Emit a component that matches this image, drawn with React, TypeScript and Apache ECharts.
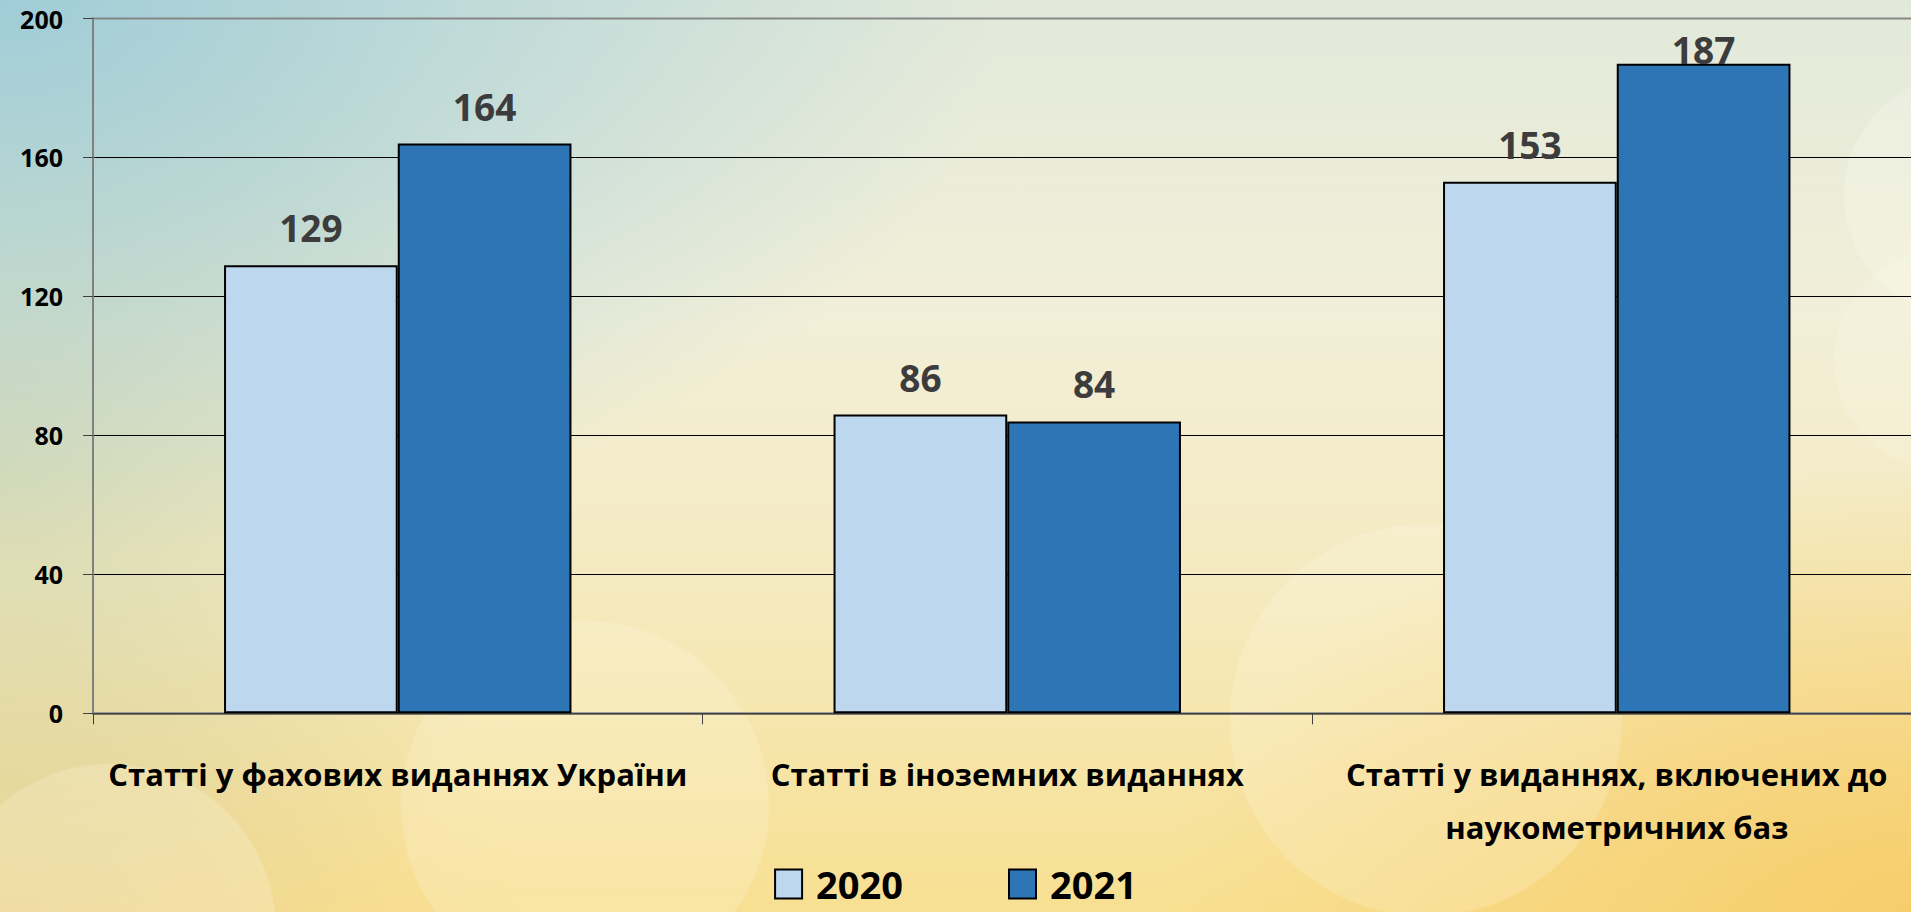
import React, { useEffect, useRef } from "react";
import * as echarts from "echarts";

const categories = [
  "Статті у фахових виданнях України",
  "Статті в іноземних виданнях",
  "Статті у виданнях, включених до\nнаукометричних баз",
];
const seriesNames = ["2020", "2021"];
const values2020 = [129, 86, 153];
const values2021 = [164, 84, 187];
const yTicks = { min: 0, max: 200, interval: 40 };

const FONT = "'Open Sans', 'Noto Sans', sans-serif";

export default function App() {
  const ref = useRef<HTMLDivElement>(null);
  useEffect(() => {
    if (!ref.current) return;
    const chart = echarts.init(ref.current, undefined, { renderer: "svg" });
    const labelCommon = {
      show: true,
      position: "top",
      distance: 19,
      fontFamily: FONT,
      fontSize: 37,
      fontWeight: "bold",
      color: "#3c3c3c",
    };
    chart.setOption({
      animation: false,
      backgroundColor: "transparent",
      textStyle: { fontFamily: FONT },
      grid: {
        left: 93,
        top: 18.5,
        width: 1828.5,
        height: 694.8,
        show: true,
        borderColor: "#868686",
        borderWidth: 2,
        backgroundColor: "transparent",
        outerBoundsMode: "none",
      },
      legend: {
        data: seriesNames,
        left: "center",
        top: 865,
        padding: 0,
        itemWidth: 27,
        itemHeight: 29,
        itemGap: 105,
        icon: "rect",
        itemStyle: { borderColor: "#000", borderWidth: 2 },
        textStyle: {
          fontFamily: FONT,
          fontSize: 38,
          fontWeight: "bold",
          color: "#000",
          padding: [0, 0, 0, 9],
        },
      },
      xAxis: {
        type: "category",
        data: categories,
        axisLine: { lineStyle: { color: "#595959", width: 1.5 } },
        axisTick: { show: true, length: 11, alignWithLabel: false, lineStyle: { color: "#404040" } },
        axisLabel: {
          interval: 0,
          margin: 34,
          fontFamily: FONT,
          fontSize: 31,
          fontWeight: "bold",
          color: "#000",
          lineHeight: 53,
          align: "center",
        },
      },
      yAxis: {
        type: "value",
        min: yTicks.min,
        max: yTicks.max,
        interval: yTicks.interval,
        axisLine: { show: true, lineStyle: { color: "#808080", width: 2 } },
        axisTick: { show: true, length: 10, lineStyle: { color: "#404040" } },
        axisLabel: {
          margin: 30,
          fontFamily: FONT,
          fontSize: 25,
          fontWeight: "bold",
          color: "#000",
        },
        splitLine: {
          show: true,
          lineStyle: {
            color: ["#000", "#000", "#000", "#000", "#000", "#868686"],
            width: 1,
          },
        },
      },
      series: [
        {
          name: seriesNames[0],
          type: "bar",
          data: values2020,
          barGap: "0%",
          barCategoryGap: "43%",
          itemStyle: { color: "#bdd7ee", borderColor: "#000", borderWidth: 2 },
          label: labelCommon,
        },
        {
          name: seriesNames[1],
          type: "bar",
          data: values2021,
          barGap: "0%",
          barCategoryGap: "43%",
          itemStyle: { color: "#2e75b6", borderColor: "#000", borderWidth: 2 },
          label: labelCommon,
          labelLayout: (params: any) => {
            const r = params.labelRect;
            const minTop = 31;
            if (r && r.y < minTop) return { dy: minTop - r.y };
            return {};
          },
        },
      ],
    });
    return () => chart.dispose();
  }, []);

  const bg = [
    "radial-gradient(circle at 110px 930px, rgba(255,250,235,0.22) 0 165px, rgba(255,250,235,0) 167px)",
    "radial-gradient(circle at 585px 805px, rgba(255,250,235,0.2) 0 183px, rgba(255,250,235,0) 185px)",
    "radial-gradient(circle at 1426px 720px, rgba(255,250,235,0.2) 0 195px, rgba(255,250,235,0) 197px)",
    "radial-gradient(circle at 1965px 195px, rgba(255,255,245,0.22) 0 120px, rgba(255,255,245,0) 122px)",
    "radial-gradient(circle at 1945px 360px, rgba(255,255,245,0.15) 0 110px, rgba(255,255,245,0) 112px)",
    "radial-gradient(ellipse 1000px 560px at 0 0, rgba(160,205,216,1) 0%, rgba(160,205,216,0) 100%)",
    "radial-gradient(ellipse 520px 650px at 0 50%, rgba(200,208,168,0.6) 0%, rgba(200,208,168,0) 100%)",
    "radial-gradient(ellipse 750px 450px at 100% 100%, rgba(246,202,100,0.85) 0%, rgba(246,202,100,0) 100%)",
    "radial-gradient(ellipse 520px 320px at 0 100%, rgba(240,208,135,0.65) 0%, rgba(240,208,135,0) 100%)",
    "linear-gradient(180deg, #e2e9da 0%, #f2efd8 35%, #f5eabf 65%, #f8e092 100%)",
  ].join(", ");

  return (
    <div
      ref={ref}
      style={{
        position: "absolute",
        left: 0,
        top: 0,
        width: 1911,
        height: 912,
        background: bg,
        overflow: "hidden",
      }}
    />
  );
}
